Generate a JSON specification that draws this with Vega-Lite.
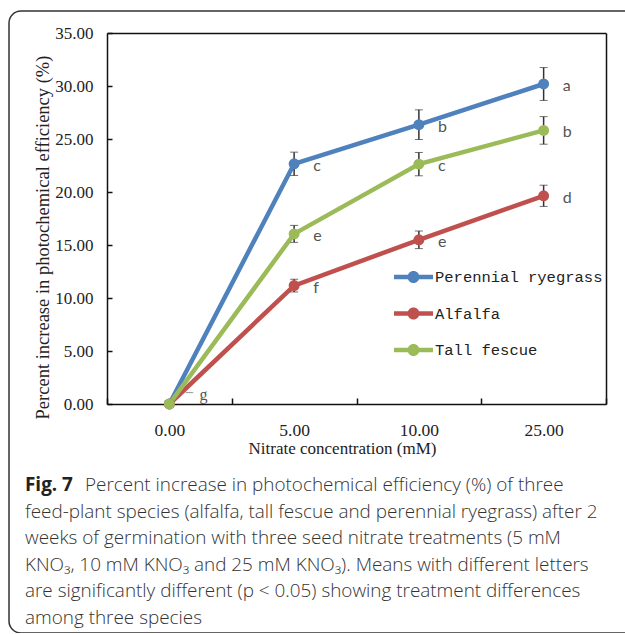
{
  "$schema": "https://vega.github.io/schema/vega-lite/v6.json",
  "width": 631,
  "height": 622,
  "padding": {"left": 9, "top": 11, "right": 0, "bottom": 0},
  "autosize": {"type": "none"},
  "background": "white",
  "config": {
    "view": {"stroke": "#333333", "strokeWidth": 1.5, "cornerRadius": 12},
    "legend": {
      "orient": "none",
      "legendX": 392.5,
      "legendY": 254,
      "title": null,
      "padding": 0,
      "rowPadding": 15.5,
      "symbolType": "M-1.625,-0.19L1.625,-0.19L1.625,0.19L-1.625,0.19Z M-0.5,0A0.5,0.5 0 1,1 0.5,0A0.5,0.5 0 1,1 -0.5,0Z",
      "symbolSize": 576,
      "symbolStrokeWidth": 0,
      "symbolOpacity": 1,
      "labelOffset": 9.5,
      "labelFont": "Liberation Mono",
      "labelFontSize": 15.5,
      "labelColor": "#222222",
      "labelLimit": 300
    }
  },
  "datasets": {
    "series": [
      {"conc": "0.00", "species": "Perennial ryegrass", "value": 0, "lo": null, "hi": null, "letter": ""},
      {"conc": "5.00", "species": "Perennial ryegrass", "value": 22.66, "lo": 21.56, "hi": 23.76, "letter": "c"},
      {"conc": "10.00", "species": "Perennial ryegrass", "value": 26.35, "lo": 24.95, "hi": 27.75, "letter": "b"},
      {"conc": "25.00", "species": "Perennial ryegrass", "value": 30.19, "lo": 28.64, "hi": 31.74, "letter": "a"},
      {"conc": "0.00", "species": "Alfalfa", "value": 0, "lo": null, "hi": null, "letter": ""},
      {"conc": "5.00", "species": "Alfalfa", "value": 11.17, "lo": 10.57, "hi": 11.77, "letter": "f"},
      {"conc": "10.00", "species": "Alfalfa", "value": 15.49, "lo": 14.66, "hi": 16.32, "letter": "e"},
      {"conc": "25.00", "species": "Alfalfa", "value": 19.64, "lo": 18.64, "hi": 20.64, "letter": "d"},
      {"conc": "0.00", "species": "Tall fescue", "value": 0, "lo": null, "hi": null, "letter": "g"},
      {"conc": "5.00", "species": "Tall fescue", "value": 16.05, "lo": 15.25, "hi": 16.85, "letter": "e"},
      {"conc": "10.00", "species": "Tall fescue", "value": 22.63, "lo": 21.53, "hi": 23.73, "letter": "c"},
      {"conc": "25.00", "species": "Tall fescue", "value": 25.81, "lo": 24.51, "hi": 27.11, "letter": "b"}
    ],
    "caption": [
      {"line": 0, "text": "Percent increase in photochemical efficiency (%) of three"},
      {"line": 1, "text": "feed-plant species (alfalfa, tall fescue and perennial ryegrass) after 2"},
      {"line": 2, "text": "weeks of germination with three seed nitrate treatments (5 mM"},
      {"line": 3, "text": "KNO₃, 10 mM KNO₃ and 25 mM KNO₃). Means with different letters"},
      {"line": 4, "text": "are significantly different (p < 0.05) showing treatment differences"},
      {"line": 5, "text": "among three species"}
    ],
    "figlabel": [{"line": 0, "text": "Fig. 7"}]
  },
  "layer": [
    {
      "data": {"name": "series"},
      "encoding": {
        "x": {
          "field": "conc",
          "type": "ordinal",
          "sort": ["0.00", "5.00", "10.00", "25.00"],
          "scale": {"type": "band", "domain": ["0.00", "5.00", "10.00", "25.00"], "range": [98, 597], "paddingInner": 0, "paddingOuter": 0}
        }
      },
      "layer": [
        {
          "mark": {"type": "line", "strokeWidth": 4.5},
          "encoding": {
            "x": {
              "field": "conc", "type": "ordinal",
              "axis": {
                "orient": "bottom",
                "offset": -229,
                "title": "Nitrate concentration (mM)",
                "labelAngle": 0,
                "tickBand": "extent",
                "tickSize": -6,
                "tickWidth": 1.5,
                "tickColor": "#111111",
                "domainColor": "#111111",
                "domainWidth": 1.5,
                "labelFont": "Liberation Serif",
                "labelFontSize": 17.5,
                "labelColor": "#222222",
                "labelPadding": 23,
                "titleFont": "Liberation Serif",
                "titleFontSize": 17,
                "titleFontWeight": "normal",
                "titleColor": "#222222",
                "titleX": 333,
                "titleY": 49,
                "titleBaseline": "alphabetic"
              }
            },
            "y": {
              "field": "value", "type": "quantitative",
              "scale": {"domain": [0, 35], "range": [393, 22], "nice": false, "zero": true},
              "axis": {
                "orient": "left",
                "offset": -98,
                "values": [0, 5, 10, 15, 20, 25, 30, 35],
                "format": ".2f",
                "grid": false,
                "tickSize": -5,
                "tickWidth": 1.5,
                "tickColor": "#111111",
                "domainColor": "#111111",
                "domainWidth": 1.5,
                "labelFont": "Liberation Serif",
                "labelFontSize": 17,
                "labelColor": "#222222",
                "labelPadding": 19,
                "title": "Percent increase in photochemical efficiency (%)",
                "titleFont": "Liberation Serif",
                "titleFontSize": 18.5,
                "titleFontWeight": "normal",
                "titleColor": "#222222",
                "titleX": -65,
                "titleY": 226,
                "titleBaseline": "middle"
              }
            },
            "stroke": {
              "field": "species", "type": "nominal",
              "scale": {"domain": ["Perennial ryegrass", "Alfalfa", "Tall fescue"], "range": ["#4F81BD", "#C0504D", "#9BBB59"]}
            }
          }
        },
        {
          "transform": [{"filter": "datum.lo != null"}],
          "mark": {"type": "errorbar", "ticks": {"size": 8, "color": "#333333", "strokeWidth": 1.5}, "rule": {"color": "#333333", "strokeWidth": 1.5}},
          "encoding": {
            "x": {"field": "conc", "type": "ordinal", "axis": null},
            "y": {"field": "lo", "type": "quantitative", "axis": null},
            "y2": {"field": "hi"}
          }
        },
        {
          "mark": {"type": "circle", "size": 120, "opacity": 1},
          "encoding": {
            "x": {"field": "conc", "type": "ordinal", "axis": null},
            "y": {"field": "value", "type": "quantitative", "axis": null},
            "color": {
              "field": "species", "type": "nominal",
              "scale": {"domain": ["Perennial ryegrass", "Alfalfa", "Tall fescue"], "range": ["#4F81BD", "#C0504D", "#9BBB59"]}
            }
          }
        },
        {
          "transform": [{"filter": "datum.letter != '' && datum.letter != 'g'"}],
          "mark": {"type": "text", "dx": 19, "dy": 2, "align": "left", "baseline": "middle", "font": "Lato", "fontSize": 16, "color": "#555555"},
          "encoding": {
            "x": {"field": "conc", "type": "ordinal", "axis": null},
            "y": {"field": "value", "type": "quantitative", "axis": null},
            "text": {"field": "letter"}
          }
        },
        {
          "transform": [{"filter": "datum.letter == 'g'"}],
          "mark": {"type": "text", "dx": 34, "dy": -9, "align": "center", "baseline": "middle", "font": "Liberation Serif", "fontSize": 16, "color": "#555555"},
          "encoding": {
            "x": {"field": "conc", "type": "ordinal", "axis": null},
            "y": {"field": "value", "type": "quantitative", "axis": null},
            "text": {"field": "letter"}
          }
        },
        {
          "transform": [{"filter": "datum.letter == 'g'"}],
          "mark": {"type": "text", "dx": 20, "dy": -11, "align": "center", "baseline": "middle", "font": "DejaVu Sans", "fontSize": 12, "color": "#999999", "text": "─"},
          "encoding": {
            "x": {"field": "conc", "type": "ordinal", "axis": null},
            "y": {"field": "value", "type": "quantitative", "axis": null}
          }
        },
        {
          "mark": {"type": "point", "opacity": 0},
          "encoding": {
            "x": {"field": "conc", "type": "ordinal", "axis": {"orient": "top", "offset": -22, "labels": false, "ticks": false, "title": null, "domainColor": "#111111", "domainWidth": 1.5}},
            "y": {"field": "value", "type": "quantitative", "axis": {"orient": "right", "offset": -34, "labels": false, "ticks": false, "title": null, "grid": false, "domainColor": "#111111", "domainWidth": 1.5}}
          }
        }
      ],
      "resolve": {"axis": {"x": "independent", "y": "independent"}}
    },
    {
      "data": {"name": "caption"},
      "layer": [
        {
          "transform": [{"filter": "datum.line == 0"}],
          "mark": {"type": "text", "align": "left", "baseline": "alphabetic", "font": "Open Sans", "fontSize": 18.9, "fontWeight": 300, "color": "#333333", "dx": 76},
          "encoding": {
            "x": {"value": 0},
            "y": {"field": "line", "type": "quantitative", "scale": {"domain": [0, 5], "range": [480, 613]}, "axis": null},
            "text": {"field": "text"}
          }
        },
        {
          "transform": [{"filter": "datum.line > 0"}],
          "mark": {"type": "text", "align": "left", "baseline": "alphabetic", "font": "Open Sans", "fontSize": 18.9, "fontWeight": 300, "color": "#333333", "dx": 16},
          "encoding": {
            "x": {"value": 0},
            "y": {"field": "line", "type": "quantitative", "scale": {"domain": [0, 5], "range": [480, 613]}, "axis": null},
            "text": {"field": "text"}
          }
        },
        {
          "data": {"name": "figlabel"},
          "mark": {"type": "text", "align": "left", "baseline": "alphabetic", "font": "Open Sans", "fontSize": 18.9, "fontWeight": "bold", "color": "#222222", "dx": 16},
          "encoding": {
            "x": {"value": 0},
            "y": {"field": "line", "type": "quantitative", "scale": {"domain": [0, 5], "range": [480, 613]}, "axis": null},
            "text": {"field": "text"}
          }
        }
      ]
    }
  ],
  "resolve": {"scale": {"y": "independent", "x": "independent"}}
}
